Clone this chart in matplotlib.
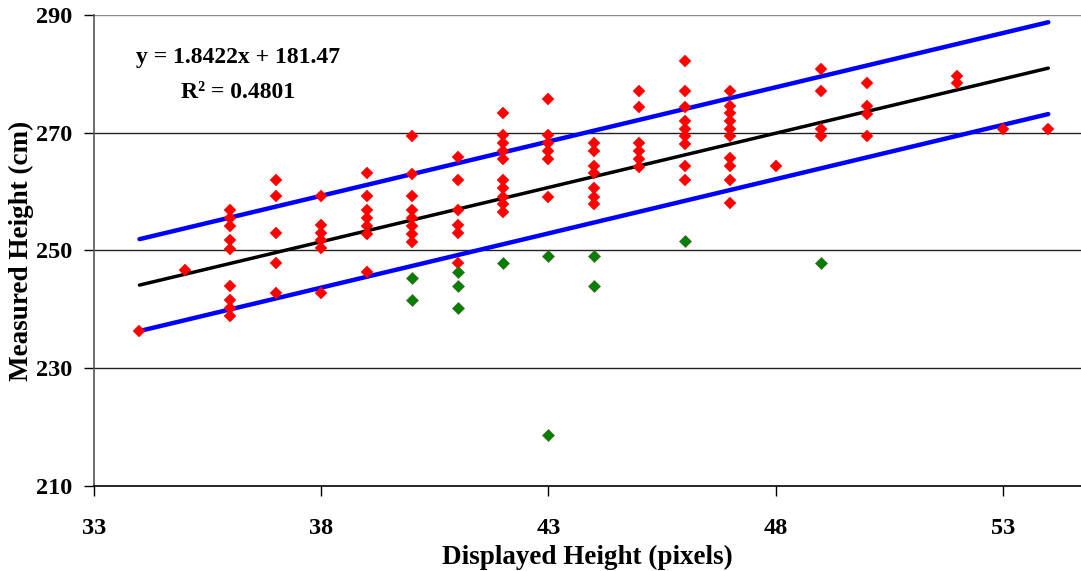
import matplotlib
matplotlib.use("Agg")
import matplotlib.pyplot as plt
import numpy as np

# ---- data ----
red_x = ([34] + [35] + [36] * 9 + [37] * 5 + [38] * 6 + [39] * 7 + [40] * 8 + [41] * 6
         + [42] * 10 + [43] * 6 + [44] * 7 + [45] * 6 + [46] * 9 + [47] * 10 + [48]
         + [49] * 4 + [50] * 4 + [52] * 2 + [53] + [54])
red_y = ([236.3]
         + [246.6]
         + [256.8, 255.5, 254.2, 251.7, 250.2, 244.0, 241.5, 240.2, 238.9]
         + [261.9, 259.3, 252.9, 247.8, 242.7]
         + [259.3, 254.3, 252.9, 251.7, 250.4, 242.7]
         + [263.1, 259.3, 256.8, 255.5, 254.2, 252.8, 246.4]
         + [269.5, 263.0, 259.3, 256.8, 255.5, 254.2, 252.8, 251.5]
         + [265.8, 261.9, 256.8, 254.3, 252.9, 247.8]
         + [273.3, 269.6, 268.2, 266.9, 265.5, 262.0, 260.6, 259.1, 257.9, 256.6]
         + [275.7, 269.6, 268.2, 266.9, 265.5, 259.1]
         + [268.2, 266.9, 264.4, 263.1, 260.6, 259.1, 257.9]
         + [277.1, 274.4, 268.2, 266.9, 265.5, 264.2]
         + [282.2, 277.1, 274.4, 272.0, 270.6, 269.4, 268.0, 264.4, 261.9]
         + [277.1, 274.5, 273.3, 272.0, 270.6, 269.4, 265.7, 264.4, 261.9, 258.1]
         + [264.4]
         + [280.8, 277.1, 270.6, 269.4]
         + [278.4, 274.5, 273.2, 269.4]
         + [279.6, 278.4]
         + [270.6]
         + [270.6])

green_x = [40, 40, 41, 41, 41, 42, 43, 43, 44, 44, 46, 49]
green_y = [245.3, 241.5, 246.4, 244.0, 240.2, 247.8, 249.1, 218.6, 249.1, 244.0, 251.6, 247.8]

slope = 1.8422
intercept = 181.47
r_squared = 0.4801
band = 7.8
line_x = [34, 54]

x_ticks = [33, 38, 43, 48, 53]
y_ticks = [210, 230, 250, 270, 290]

# ---- plot ----
plt.rcParams['font.family'] = ['Liberation Serif', 'DejaVu Serif']
plt.rcParams['font.weight'] = 'bold'

fig = plt.figure(figsize=(10.81, 5.71), dpi=100)
ax = fig.add_axes([0.087, 0.149, 0.913, 0.825])

for yv in y_ticks[1:]:
    ax.axhline(yv, color='#222222' if yv != 290 else '#888888', lw=1.0, zorder=1)

lx = np.array(line_x, dtype=float)
ly = slope * lx + intercept
ax.plot(lx, ly + band, color='#0000FF', lw=3.2, zorder=2, solid_capstyle='round')
ax.plot(lx, ly - band, color='#0000FF', lw=3.2, zorder=2, solid_capstyle='round')
ax.plot(lx, ly, color='black', lw=2.5, zorder=3, solid_capstyle='round')

ax.plot(red_x, red_y, 'D', color='#FF0000', ms=6.6, mec='#FF0000', mew=0.3, zorder=4)
ax.plot(green_x, green_y, 'D', color='#008000', ms=6.6, mec='#556b2f', mew=0.5, zorder=4)

ax.set_xlim(33, 54.72)
ax.set_ylim(210, 290)
ax.set_xticks(x_ticks)
ax.set_yticks(y_ticks)
ax.tick_params(axis='both', direction='out', length=7, width=1, labelsize=17.5)
ax.tick_params(axis='x', pad=16)
ax.tick_params(axis='y', pad=9)
for lab in ax.get_xticklabels() + ax.get_yticklabels():
    lab.set_fontweight('bold')

ax.spines['top'].set_visible(False)
ax.spines['right'].set_visible(False)
ax.spines['left'].set_color('#555555')
ax.spines['left'].set_linewidth(1.2)
ax.spines['bottom'].set_color('black')
ax.spines['bottom'].set_linewidth(1.2)

ax.set_xlabel('Displayed Height (pixels)', fontsize=19.5, fontweight='bold', labelpad=4)
ax.set_ylabel('Measured Height (cm)', fontsize=19.5, fontweight='bold', labelpad=1)

fig.text(238 / 1081, 1 - 57 / 571, f'y = {slope}x + {intercept}', fontsize=17,
         fontweight='bold', ha='center', va='center')
fig.text(238 / 1081, 1 - 93 / 571, f'R\u00b2 = {r_squared}', fontsize=17,
         fontweight='bold', ha='center', va='center')

fig.savefig('out.png', dpi=100)
